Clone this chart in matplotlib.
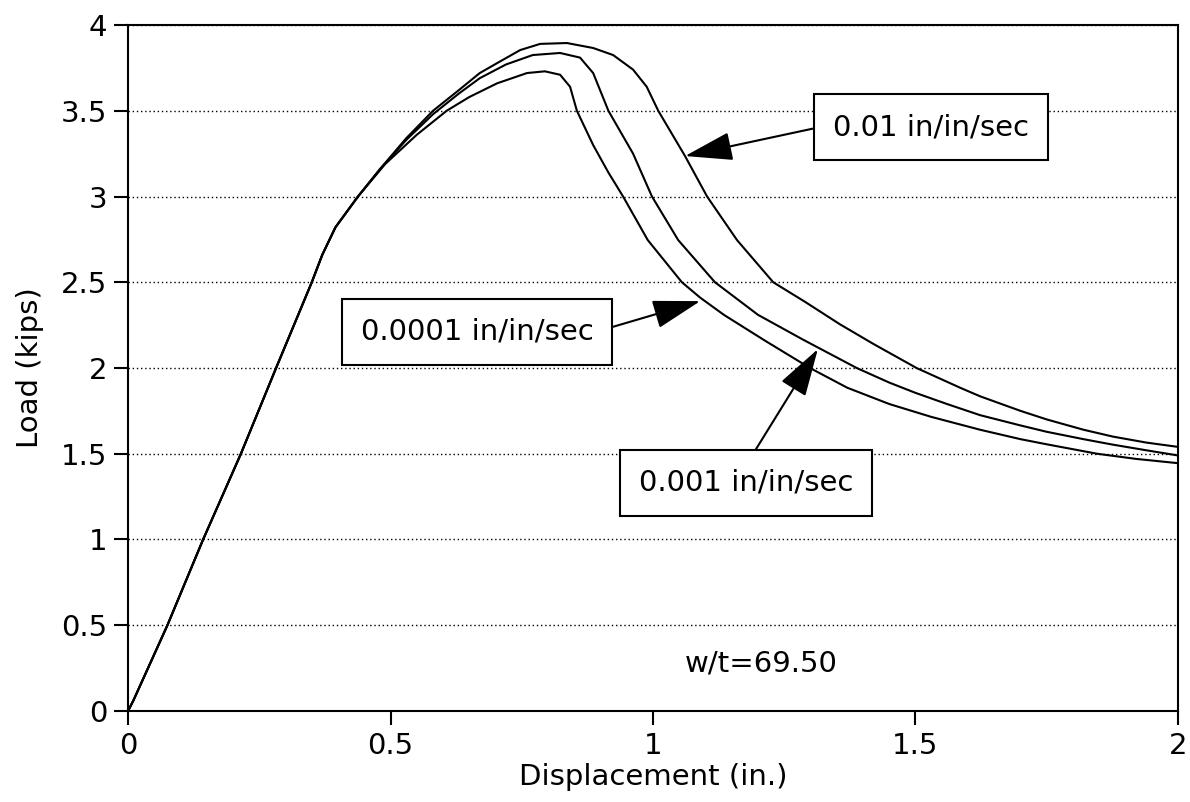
import matplotlib
matplotlib.use("Agg")
import matplotlib.pyplot as plt
from matplotlib.ticker import FuncFormatter

# load-displacement curves (x in inches, y in kips)
# the elastic rise is common to all three strain rates
rise_x = [0.0, 0.01, 0.075, 0.143, 0.215, 0.282, 0.35, 0.37, 0.395, 0.438]
rise_y = [0.0, 0.06, 0.5, 1.0, 1.5, 2.0, 2.5, 2.66, 2.82, 3.0]

# 0.01 in/in/sec
fast_x = [0.48, 0.53, 0.581, 0.63, 0.67, 0.71, 0.747, 0.785, 0.836, 0.886,
          0.924, 0.962, 0.988, 1.01, 1.061, 1.103, 1.16, 1.229, 1.29, 1.356,
          1.42, 1.502, 1.585, 1.623, 1.70, 1.75, 1.82, 1.876, 1.94, 2.0]
fast_y = [3.16, 3.34, 3.50, 3.62, 3.72, 3.79, 3.854, 3.89, 3.895, 3.866,
          3.825, 3.74, 3.64, 3.50, 3.236, 3.0, 2.746, 2.5, 2.385, 2.255,
          2.14, 2.0, 1.885, 1.835, 1.75, 1.70, 1.64, 1.60, 1.565, 1.54]

# 0.001 in/in/sec
mid_x = [0.48, 0.53, 0.581, 0.63, 0.67, 0.72, 0.771, 0.823, 0.861, 0.886,
         0.915, 0.962, 0.998, 1.048, 1.118, 1.2, 1.286, 1.388, 1.45,
         1.50, 1.56, 1.623, 1.70, 1.75, 1.82, 1.876, 1.94, 2.0]
mid_y = [3.16, 3.33, 3.48, 3.60, 3.69, 3.77, 3.825, 3.837, 3.81, 3.72,
         3.50, 3.25, 3.0, 2.746, 2.5, 2.31, 2.165, 2.0, 1.915,
         1.855, 1.79, 1.725, 1.665, 1.628, 1.585, 1.553, 1.52, 1.49]

# 0.0001 in/in/sec
slow_x = [0.49, 0.55, 0.607, 0.65, 0.703, 0.76, 0.794, 0.823, 0.842, 0.855,
          0.886, 0.915, 0.943, 0.99, 1.055, 1.09, 1.135, 1.213, 1.299, 1.37,
          1.45, 1.53, 1.623, 1.70, 1.75, 1.846, 1.92, 2.0]
slow_y = [3.19, 3.36, 3.50, 3.58, 3.66, 3.72, 3.73, 3.71, 3.64, 3.50,
          3.30, 3.14, 3.0, 2.746, 2.5, 2.41, 2.31, 2.16, 2.0, 1.885,
          1.79, 1.715, 1.64, 1.585, 1.555, 1.50, 1.47, 1.445]

rate_labels = ["0.01 in/in/sec", "0.001 in/in/sec", "0.0001 in/in/sec"]
x_ticks = [0, 0.5, 1, 1.5, 2]
y_ticks = [0, 0.5, 1, 1.5, 2, 2.5, 3, 3.5, 4]
note = "w/t=69.50"

plt.rcParams['font.family'] = ['DejaVu Sans']

fig = plt.figure(figsize=(11.9, 8.02), dpi=100)
ax = fig.add_axes([0.1076, 0.1135, 0.8823, 0.8553])

for xs, ys in [(fast_x, fast_y), (mid_x, mid_y), (slow_x, slow_y)]:
    ax.plot(rise_x + xs, rise_y + ys, color='black', lw=1.5)

ax.set_xlim(0, 2)
ax.set_ylim(0, 4)
ax.set_xticks(x_ticks)
ax.set_yticks(y_ticks)
fmt = FuncFormatter(lambda v, pos: '%g' % v)
ax.xaxis.set_major_formatter(fmt)
ax.yaxis.set_major_formatter(fmt)
ax.tick_params(direction='out', length=10, width=1.5, labelsize=21, pad=5,
               colors='black')
ax.yaxis.grid(True, color='black', linestyle=(0, (1, 2)), lw=1.0)
for sp in ax.spines.values():
    sp.set_linewidth(1.5)
    sp.set_color('black')

ax.set_xlabel('Displacement (in.)', fontsize=21, labelpad=2)
ax.set_ylabel('Load (kips)', fontsize=21, labelpad=12)

box = dict(boxstyle='square,pad=0.65', fc='white', ec='black', lw=1.5)
arrow = dict(arrowstyle='-|>,head_length=1.5,head_width=0.45',
             mutation_scale=20, fc='black', ec='black', lw=1.5,
             shrinkA=0, shrinkB=0)

ax.annotate(rate_labels[0], xy=(1.061, 3.236), xytext=(1.53, 3.405),
            fontsize=21, ha='center', va='center', bbox=box,
            arrowprops=dict(arrow, relpos=(0, 0.6)))
ax.annotate(rate_labels[2], xy=(1.09, 2.39), xytext=(0.665, 2.21),
            fontsize=21, ha='center', va='center', bbox=box,
            arrowprops=dict(arrow, relpos=(1, 0.48)))
ax.annotate(rate_labels[1], xy=(1.314, 2.11), xytext=(1.177, 1.33),
            fontsize=21, ha='center', va='center', bbox=box,
            arrowprops=dict(arrow, relpos=(0.49, 1)))

ax.text(1.207, 0.274, note, fontsize=21, ha='center', va='center')

fig.savefig('out.png', dpi=100)
